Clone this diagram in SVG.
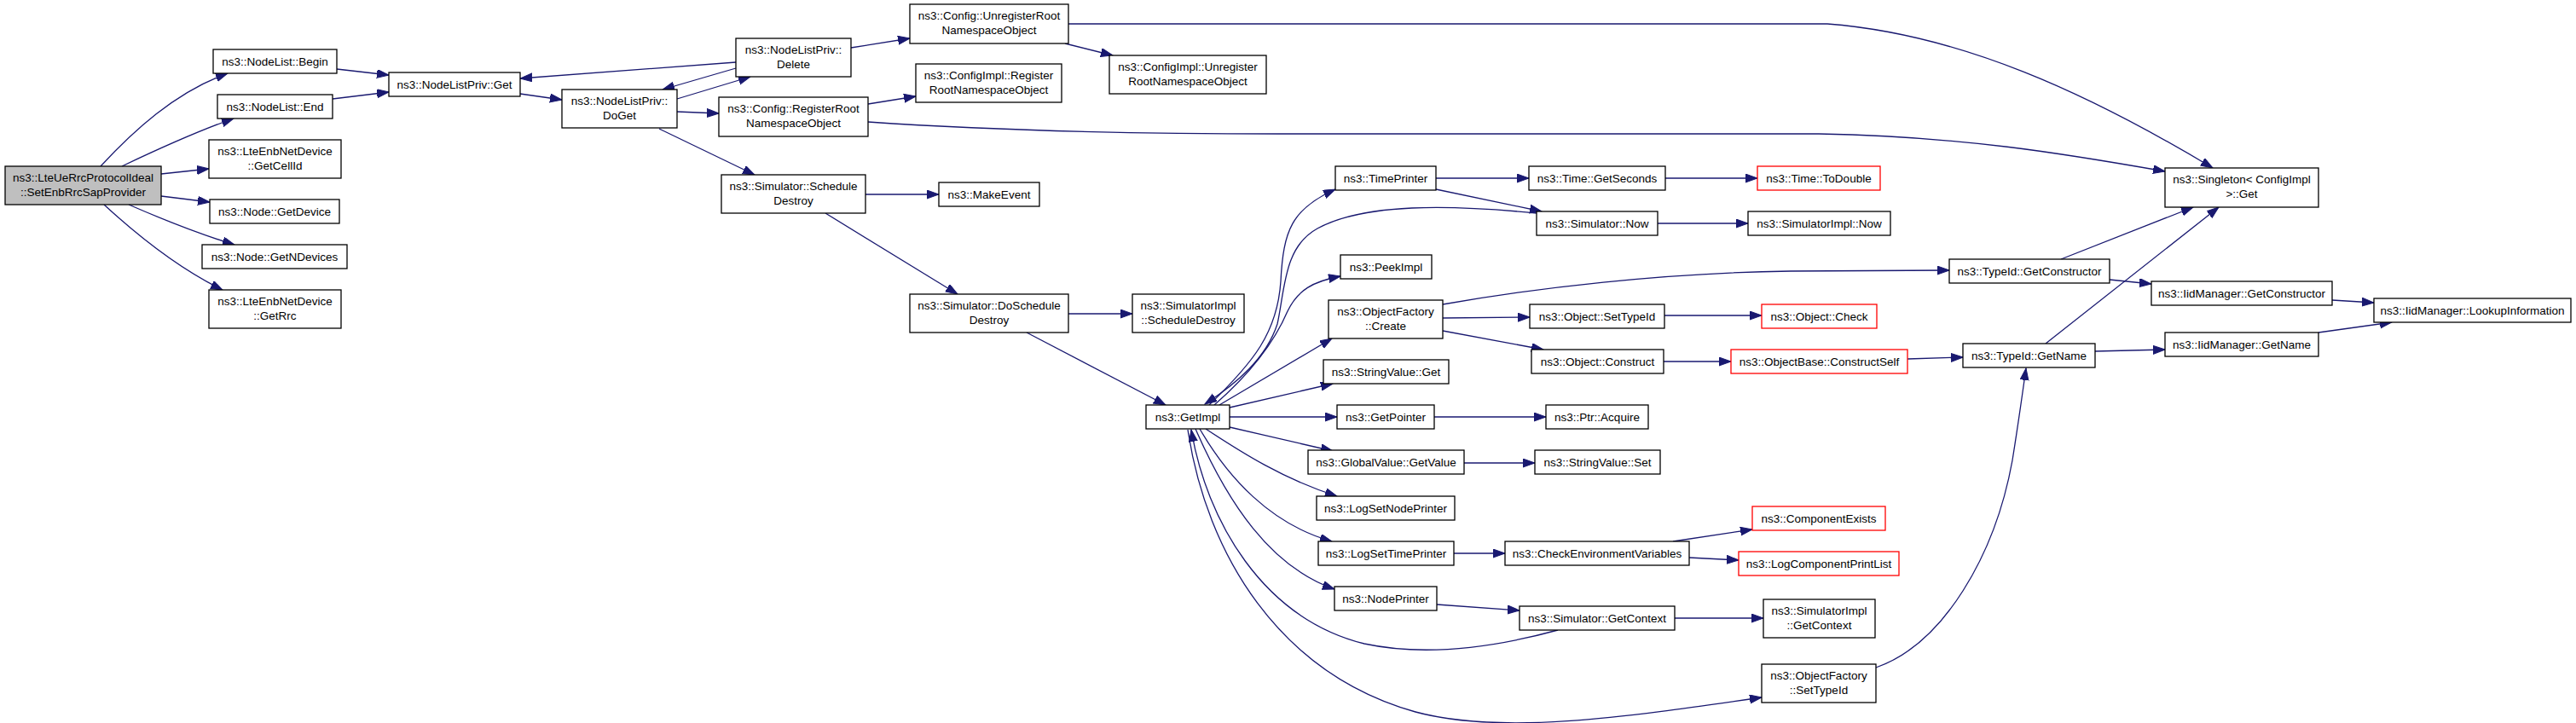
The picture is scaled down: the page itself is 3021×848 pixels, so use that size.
<svg xmlns="http://www.w3.org/2000/svg" width="3021" height="848" viewBox="0 0 3021 848">
<style>
.n rect{fill:#fff;stroke:#000;stroke-width:1.3}
.n.root rect{fill:#bfbfbf}
.n.red rect{stroke:#ff0000}
.n text{font-family:"Liberation Sans",Arial,sans-serif;font-size:13.5px;text-anchor:middle;fill:#000}
#edges path{fill:none;stroke:#191970;stroke-width:1.3;marker-end:url(#arr)}
</style>
<defs>
<marker id="arr" markerUnits="userSpaceOnUse" markerWidth="15" markerHeight="11" refX="14" refY="5" orient="auto">
<path d="M0,0 L14,5 L0,10 z" fill="#191970" stroke="#191970" stroke-width="1"/>
</marker>
</defs>
<rect x="0" y="0" width="3021" height="848" fill="#fff"/>
<g id="edges">
<path d="M118,195 C155,155 205,108 267,86"/>
<path d="M143,195 C185,175 228,155 274,139"/>
<path d="M189,204 L245,198"/>
<path d="M189,230 L246,237"/>
<path d="M151,240 C190,257 232,274 275,287"/>
<path d="M122,240 C160,275 210,315 261,340"/>
<path d="M395,81 L456,88"/>
<path d="M390,116 L456,108"/>
<path d="M610,110 L659,117"/>
<path d="M863,73 L610,92"/>
<path d="M863,80 L777,105"/>
<path d="M794,116 L880,90"/>
<path d="M794,131 L843,133"/>
<path d="M773,151 L885,205"/>
<path d="M998,56 L1067,45"/>
<path d="M1018,122 L1074,113"/>
<path d="M1018,143 C1150,152 1300,157 1500,157 L2133,157 C2300,160 2420,180 2539,201"/>
<path d="M1253,28 L2143,28 C2300,40 2450,110 2595,197"/>
<path d="M1249,51 L1305,65"/>
<path d="M1015,228 L1101,228"/>
<path d="M968,250 L1123,345"/>
<path d="M1253,368 L1328,368"/>
<path d="M1204,390 L1367,475"/>
<path d="M1418,475 C1470,425 1498,390 1502,330 C1505,270 1515,245 1566,222"/>
<path d="M1802,250 C1700,240 1600,238 1545,268 C1505,290 1507,340 1498,380 C1485,420 1450,450 1413,474"/>
<path d="M1424,475 C1470,435 1495,400 1510,365 C1522,340 1540,330 1572,324"/>
<path d="M1430,475 L1562,397"/>
<path d="M1442,478 L1563,450"/>
<path d="M1442,489 L1568,489"/>
<path d="M1682,489 L1813,489"/>
<path d="M1442,501 L1563,529"/>
<path d="M1717,543 L1800,543"/>
<path d="M1414,503 C1455,530 1505,562 1568,582"/>
<path d="M1407,503 C1440,560 1490,615 1562,635"/>
<path d="M1402,503 C1440,590 1490,665 1565,691"/>
<path d="M1685,709 L1782,716"/>
<path d="M1827,739 C1750,760 1670,770 1600,755 C1480,725 1415,610 1397,504"/>
<path d="M1393,504 C1415,650 1500,790 1660,835 C1760,862 1900,842 2066,818"/>
<path d="M1964,725 L2068,725"/>
<path d="M1705,649 L1765,649"/>
<path d="M1962,635 L2055,621"/>
<path d="M1981,654 L2039,657"/>
<path d="M1684,209 L1793,209"/>
<path d="M1684,222 L1808,248"/>
<path d="M1953,209 L2061,209"/>
<path d="M1944,262 L2050,262"/>
<path d="M1692,357 C1800,338 1950,320 2100,318 L2286,317"/>
<path d="M1692,373 L1794,372"/>
<path d="M1692,388 L1810,410"/>
<path d="M1952,370 L2066,370"/>
<path d="M1951,424 L2030,424"/>
<path d="M2237,421 L2302,419"/>
<path d="M2417,304 L2572,243"/>
<path d="M2474,328 L2523,333"/>
<path d="M2399,403 L2602,243"/>
<path d="M2457,412 L2539,410"/>
<path d="M2735,352 L2784,355"/>
<path d="M2719,390 L2805,378"/>
<path d="M2200,783 C2280,755 2340,650 2360,540 C2368,490 2372,460 2376,432"/>
</g>
<g id="n_root" class="n root"><rect x="6" y="195" width="183" height="45"/><text x="97.5" y="213">ns3::LteUeRrcProtocolIdeal</text><text x="97.5" y="230">::SetEnbRrcSapProvider</text></g>
<g id="n_begin" class="n"><rect x="250" y="58" width="145" height="28"/><text x="322.5" y="77">ns3::NodeList::Begin</text></g>
<g id="n_end" class="n"><rect x="255" y="111" width="135" height="28"/><text x="322.5" y="130">ns3::NodeList::End</text></g>
<g id="n_cellid" class="n"><rect x="245" y="164" width="155" height="45"/><text x="322.5" y="182">ns3::LteEnbNetDevice</text><text x="322.5" y="199">::GetCellId</text></g>
<g id="n_getdevice" class="n"><rect x="246" y="234" width="152" height="28"/><text x="322" y="253">ns3::Node::GetDevice</text></g>
<g id="n_getndevices" class="n"><rect x="237" y="287" width="170" height="28"/><text x="322" y="306">ns3::Node::GetNDevices</text></g>
<g id="n_getrrc" class="n"><rect x="245" y="340" width="155" height="45"/><text x="322.5" y="358">ns3::LteEnbNetDevice</text><text x="322.5" y="375">::GetRrc</text></g>
<g id="n_nlpget" class="n"><rect x="456" y="85" width="154" height="28"/><text x="533" y="104">ns3::NodeListPriv::Get</text></g>
<g id="n_doget" class="n"><rect x="659" y="105" width="135" height="45"/><text x="726.5" y="123">ns3::NodeListPriv::</text><text x="726.5" y="140">DoGet</text></g>
<g id="n_delete" class="n"><rect x="863" y="45" width="135" height="45"/><text x="930.5" y="63">ns3::NodeListPriv::</text><text x="930.5" y="80">Delete</text></g>
<g id="n_cfgreg" class="n"><rect x="843" y="114" width="175" height="46"/><text x="930.5" y="132">ns3::Config::RegisterRoot</text><text x="930.5" y="149">NamespaceObject</text></g>
<g id="n_schedDestroy" class="n"><rect x="846" y="205" width="169" height="45"/><text x="930.5" y="223">ns3::Simulator::Schedule</text><text x="930.5" y="240">Destroy</text></g>
<g id="n_cfgunreg" class="n"><rect x="1067" y="5" width="186" height="46"/><text x="1160" y="23">ns3::Config::UnregisterRoot</text><text x="1160" y="40">NamespaceObject</text></g>
<g id="n_cfgimplreg" class="n"><rect x="1074" y="75" width="171" height="45"/><text x="1159.5" y="93">ns3::ConfigImpl::Register</text><text x="1159.5" y="110">RootNamespaceObject</text></g>
<g id="n_cfgimplunreg" class="n"><rect x="1301" y="65" width="184" height="45"/><text x="1393" y="83">ns3::ConfigImpl::Unregister</text><text x="1393" y="100">RootNamespaceObject</text></g>
<g id="n_makeevent" class="n"><rect x="1101" y="214" width="118" height="28"/><text x="1160" y="233">ns3::MakeEvent</text></g>
<g id="n_doschedDestroy" class="n"><rect x="1067" y="345" width="186" height="45"/><text x="1160" y="363">ns3::Simulator::DoSchedule</text><text x="1160" y="380">Destroy</text></g>
<g id="n_simimplSched" class="n"><rect x="1328" y="345" width="131" height="45"/><text x="1393.5" y="363">ns3::SimulatorImpl</text><text x="1393.5" y="380">::ScheduleDestroy</text></g>
<g id="n_getimpl" class="n"><rect x="1344" y="475" width="98" height="28"/><text x="1393" y="494">ns3::GetImpl</text></g>
<g id="n_timeprinter" class="n"><rect x="1566" y="195" width="118" height="28"/><text x="1625" y="214">ns3::TimePrinter</text></g>
<g id="n_peekimpl" class="n"><rect x="1572" y="299" width="107" height="28"/><text x="1625.5" y="318">ns3::PeekImpl</text></g>
<g id="n_ofcreate" class="n"><rect x="1558" y="352" width="134" height="45"/><text x="1625" y="370">ns3::ObjectFactory</text><text x="1625" y="387">::Create</text></g>
<g id="n_svget" class="n"><rect x="1552" y="422" width="147" height="28"/><text x="1625.5" y="441">ns3::StringValue::Get</text></g>
<g id="n_getpointer" class="n"><rect x="1568" y="475" width="114" height="28"/><text x="1625" y="494">ns3::GetPointer</text></g>
<g id="n_gvgetvalue" class="n"><rect x="1534" y="528" width="183" height="28"/><text x="1625.5" y="547">ns3::GlobalValue::GetValue</text></g>
<g id="n_lognodeprinter" class="n"><rect x="1544" y="582" width="162" height="28"/><text x="1625" y="601">ns3::LogSetNodePrinter</text></g>
<g id="n_logtimeprinter" class="n"><rect x="1546" y="635" width="159" height="28"/><text x="1625.5" y="654">ns3::LogSetTimePrinter</text></g>
<g id="n_nodeprinter" class="n"><rect x="1565" y="688" width="120" height="28"/><text x="1625" y="707">ns3::NodePrinter</text></g>
<g id="n_getseconds" class="n"><rect x="1793" y="195" width="160" height="28"/><text x="1873" y="214">ns3::Time::GetSeconds</text></g>
<g id="n_simnow" class="n"><rect x="1802" y="248" width="142" height="28"/><text x="1873" y="267">ns3::Simulator::Now</text></g>
<g id="n_objsettypeid" class="n"><rect x="1794" y="357" width="158" height="28"/><text x="1873" y="376">ns3::Object::SetTypeId</text></g>
<g id="n_objconstruct" class="n"><rect x="1796" y="410" width="155" height="28"/><text x="1873.5" y="429">ns3::Object::Construct</text></g>
<g id="n_ptracquire" class="n"><rect x="1813" y="475" width="120" height="28"/><text x="1873" y="494">ns3::Ptr::Acquire</text></g>
<g id="n_svset" class="n"><rect x="1800" y="528" width="147" height="28"/><text x="1873.5" y="547">ns3::StringValue::Set</text></g>
<g id="n_checkenv" class="n"><rect x="1765" y="635" width="216" height="28"/><text x="1873" y="654">ns3::CheckEnvironmentVariables</text></g>
<g id="n_simgetcontext" class="n"><rect x="1782" y="711" width="182" height="28"/><text x="1873" y="730">ns3::Simulator::GetContext</text></g>
<g id="n_todouble" class="n red"><rect x="2061" y="195" width="144" height="28"/><text x="2133" y="214">ns3::Time::ToDouble</text></g>
<g id="n_simimplnow" class="n"><rect x="2050" y="248" width="167" height="28"/><text x="2133.5" y="267">ns3::SimulatorImpl::Now</text></g>
<g id="n_objcheck" class="n red"><rect x="2066" y="357" width="135" height="28"/><text x="2133.5" y="376">ns3::Object::Check</text></g>
<g id="n_constructself" class="n red"><rect x="2030" y="410" width="207" height="28"/><text x="2133.5" y="429">ns3::ObjectBase::ConstructSelf</text></g>
<g id="n_compexists" class="n red"><rect x="2055" y="594" width="156" height="28"/><text x="2133" y="613">ns3::ComponentExists</text></g>
<g id="n_logcompprint" class="n red"><rect x="2039" y="647" width="188" height="28"/><text x="2133" y="666">ns3::LogComponentPrintList</text></g>
<g id="n_simimplctx" class="n"><rect x="2068" y="703" width="131" height="45"/><text x="2133.5" y="721">ns3::SimulatorImpl</text><text x="2133.5" y="738">::GetContext</text></g>
<g id="n_ofsettypeid" class="n"><rect x="2066" y="779" width="134" height="45"/><text x="2133" y="797">ns3::ObjectFactory</text><text x="2133" y="814">::SetTypeId</text></g>
<g id="n_tidgetctor" class="n"><rect x="2286" y="304" width="188" height="28"/><text x="2380" y="323">ns3::TypeId::GetConstructor</text></g>
<g id="n_tidgetname" class="n"><rect x="2302" y="403" width="155" height="28"/><text x="2379.5" y="422">ns3::TypeId::GetName</text></g>
<g id="n_singleton" class="n"><rect x="2539" y="197" width="180" height="46"/><text x="2629" y="215">ns3::Singleton&lt; ConfigImpl</text><text x="2629" y="232">&gt;::Get</text></g>
<g id="n_iidgetctor" class="n"><rect x="2523" y="330" width="212" height="28"/><text x="2629" y="349">ns3::IidManager::GetConstructor</text></g>
<g id="n_iidgetname" class="n"><rect x="2539" y="390" width="180" height="28"/><text x="2629" y="409">ns3::IidManager::GetName</text></g>
<g id="n_lookup" class="n"><rect x="2784" y="350" width="231" height="28"/><text x="2899.5" y="369">ns3::IidManager::LookupInformation</text></g>
</svg>
